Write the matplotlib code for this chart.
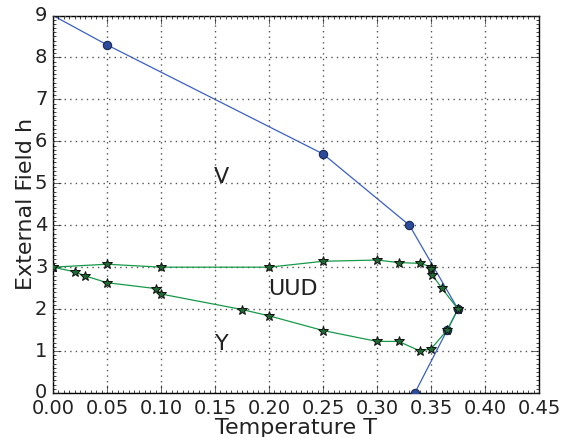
import matplotlib
matplotlib.use("Agg")
import matplotlib.pyplot as plt
from matplotlib.ticker import AutoMinorLocator

plt.style.use("classic")

# Blue boundary (V phase)
blue_T = [0.0, 0.05, 0.25, 0.33, 0.375, 0.365, 0.335]
blue_h = [9.0, 8.3, 5.7, 4.0, 2.0, 1.5, 0.0]

# Green upper boundary (UUD top)
up_T = [0.0, 0.05, 0.10, 0.20, 0.25, 0.30, 0.32, 0.34, 0.35, 0.35, 0.351, 0.36, 0.375]
up_h = [3.0, 3.07, 3.0, 3.0, 3.14, 3.17, 3.11, 3.09, 3.01, 2.95, 2.82, 2.5, 2.0]

# Green lower boundary (UUD bottom)
lo_T = [0.0, 0.02, 0.03, 0.05, 0.095, 0.10, 0.175, 0.20, 0.25, 0.30, 0.32, 0.34, 0.35, 0.365, 0.375]
lo_h = [3.0, 2.89, 2.79, 2.63, 2.49, 2.36, 1.99, 1.84, 1.49, 1.23, 1.23, 1.0, 1.05, 1.5, 2.0]

labels = [("V", 0.156, 5.16), ("UUD", 0.222, 2.48), ("Y", 0.156, 1.17)]

fig = plt.figure(figsize=(5.67, 4.37), dpi=100, facecolor="white")
ax = fig.add_axes([53 / 567, 1 - 393 / 437, (539 - 53) / 567, (393 - 15.5) / 437])

ax.plot(blue_T, blue_h, "-", color="#3a5fc8", lw=0.9, zorder=2)
ax.plot(blue_T[1:], blue_h[1:], "o", color="#2c4a9e", mec="#1a2a50", ms=6, mew=0.8, zorder=3)
ax.plot(up_T, up_h, "-", color="#17994a", lw=0.9, zorder=4)
ax.plot(lo_T, lo_h, "-", color="#17994a", lw=0.9, zorder=4)
ax.plot(up_T, up_h, "*", color="#1d6a33", mec="#111111", ms=7, mew=0.7, zorder=5)
ax.plot(lo_T, lo_h, "*", color="#1d6a33", mec="#111111", ms=7, mew=0.7, zorder=5)

for s, x, y in labels:
    ax.text(x, y, s, fontsize=16, ha="center", va="center", color="#222222")

ax.set_xlim(0, 0.45)
ax.set_ylim(0, 9)
ax.set_xticks([0, 0.05, 0.1, 0.15, 0.2, 0.25, 0.3, 0.35, 0.4, 0.45])
ax.set_yticks(range(10))
ax.xaxis.set_minor_locator(AutoMinorLocator(10))
ax.yaxis.set_minor_locator(AutoMinorLocator(10))
ax.tick_params(which="major", labelsize=14, direction="in", length=6, colors="#222222")
ax.tick_params(which="minor", direction="in", length=2)
ax.grid(True, which="major", color="#555555", linestyle=":", lw=1.0)
ax.set_xlabel("Temperature T", fontsize=16, color="#222222", labelpad=0)
ax.set_ylabel("External Field h", fontsize=16, color="#222222", labelpad=-1)

fig.savefig("out.png", dpi=100, facecolor="white")
